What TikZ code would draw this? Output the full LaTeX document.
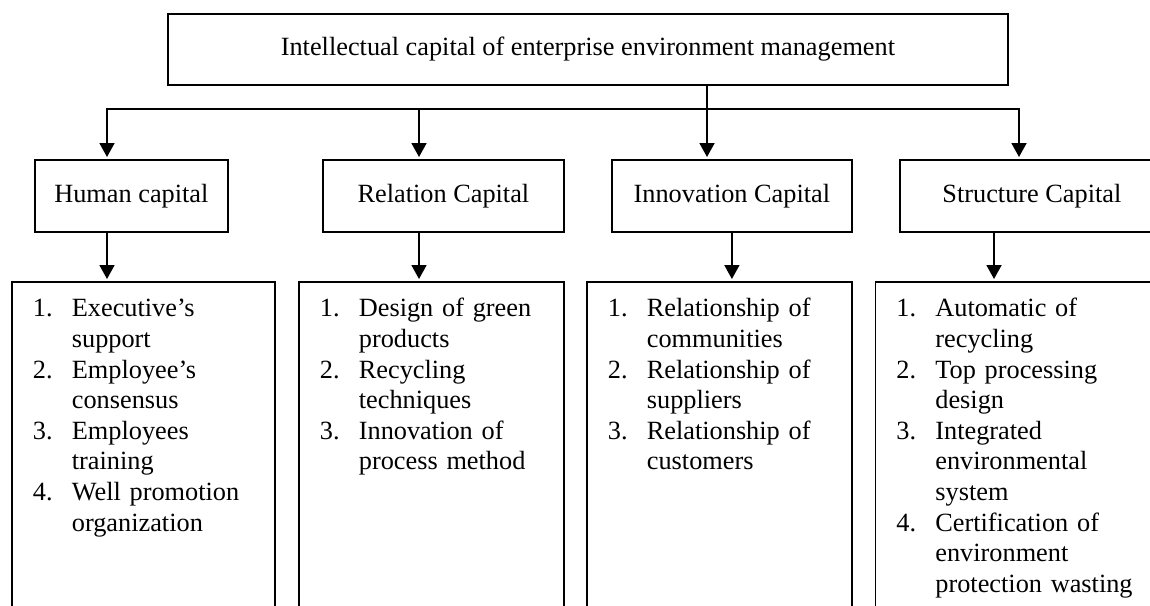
\documentclass[tikz,border=0pt]{standalone}
\usepackage{fontspec}
\setmainfont{Liberation Serif}
\usetikzlibrary{arrows.meta}

\newcommand{\punkt}[1]{\makebox[39pt][l]{#1}} % номер пункта списка

\begin{document}
\begin{tikzpicture}[
        x=1pt, y=-1pt, % координаты в точках, ось y вниз
        line width=1.8pt,
        every node/.style = {font=\fontsize{26.3}{30.6}\selectfont},
        box/.style = {draw, anchor=north west, minimum height=72pt, inner sep=0pt}, % Стиль блоков
        list/.style = {draw, anchor=north west, text width=#1, align=left,
                inner xsep=21pt, inner ysep=0pt, text height=35pt, text depth=330pt}, % Списки
        arrow/.style = {-{Triangle[length=14pt, width=15pt]}, shorten >=2pt},
    ]
    \useasboundingbox (0,0) rectangle (1150,605);
    \clip (0,0) rectangle (1150,605);

    \node[box, minimum width=840pt, minimum height=71pt] (top) at (167,12.7)
        {Intellectual capital of enterprise environment management};

    \node[box, minimum width=193pt] (human) at (34,159) {Human capital};
    \node[box, minimum width=241pt] (relation) at (322,159) {Relation Capital};
    \node[box, minimum width=240pt] (innovation) at (611,159) {Innovation Capital};
    \node[box, minimum width=264pt] (structure) at (899,159) {Structure Capital};

    \node[list=221pt] (hlist) at (11,281) {%
        \punkt{1.}Executive's\\ \punkt{}support\\
        \punkt{2.}Employee's\\ \punkt{}consensus\\
        \punkt{3.}Employees\\ \punkt{}training\\
        \punkt{4.}Well promotion\\ \punkt{}organization};
    \node[list=223pt] (rlist) at (298,281) {%
        \punkt{1.}Design of green\\ \punkt{}products\\
        \punkt{2.}Recycling\\ \punkt{}techniques\\
        \punkt{3.}Innovation of\\ \punkt{}process method};
    \node[list=223pt] (ilist) at (586,281) {%
        \punkt{1.}Relationship of\\ \punkt{}communities\\
        \punkt{2.}Relationship of\\ \punkt{}suppliers\\
        \punkt{3.}Relationship of\\ \punkt{}customers};
    \node[list=258pt] (slist) at (874.5,281) {%
        \punkt{1.}Automatic of\\ \punkt{}recycling\\
        \punkt{2.}Top processing\\ \punkt{}design\\
        \punkt{3.}Integrated\\ \punkt{}environmental\\ \punkt{}system\\
        \punkt{4.}Certification of\\ \punkt{}environment\\ \punkt{}protection wasting};

    % общая шина под верхним блоком
    \coordinate (c1) at (107,109);
    \coordinate (c2) at (419,109);
    \coordinate (c3) at (707,109);
    \coordinate (c4) at (1019,109);
    \coordinate (s4) at (994,231);

    \draw[arrow] (top.south -| c3) -- (c3 |- innovation.north);
    \draw[arrow] (c3) -| (c1 |- human.north);
    \draw[arrow] (c3) -| (c4 |- structure.north);
    \draw[arrow] (c2) -- (c2 |- relation.north);

    \draw[arrow] (c1 |- human.south) -- (c1 |- hlist.north);
    \draw[arrow] (c2 |- relation.south) -- (c2 |- rlist.north);
    \draw[arrow] (innovation.south) -- (innovation.south |- ilist.north);
    \draw[arrow] (s4 |- structure.south) -- (s4 |- slist.north);
\end{tikzpicture}
\end{document}
